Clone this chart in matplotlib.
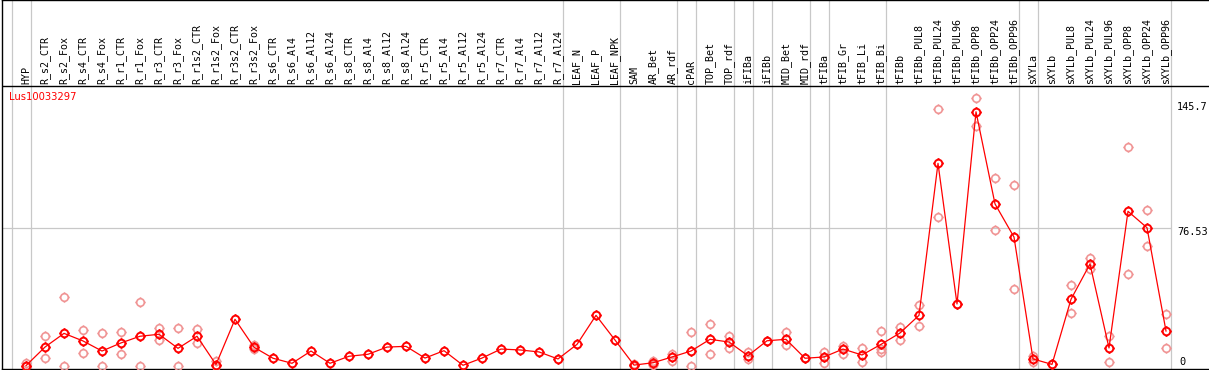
import matplotlib
matplotlib.use("Agg")
import matplotlib.pyplot as plt
from matplotlib.path import Path
import numpy as np

title = "Lus10033297"

categories = [
    "HYP", "R_s2_CTR", "R_s2_Fox", "R_s4_CTR", "R_s4_Fox", "R_r1_CTR", "R_r1_Fox",
    "R_r3_CTR", "R_r3_Fox", "R_r1s2_CTR", "R_r1s2_Fox", "R_r3s2_CTR", "R_r3s2_Fox",
    "R_s6_CTR", "R_s6_Al4", "R_s6_Al12", "R_s6_Al24", "R_s8_CTR", "R_s8_Al4",
    "R_s8_Al12", "R_s8_Al24", "R_r5_CTR", "R_r5_Al4", "R_r5_Al12", "R_r5_Al24",
    "R_r7_CTR", "R_r7_Al4", "R_r7_Al12", "R_r7_Al24", "LEAF_N", "LEAF_P", "LEAF_NPK",
    "SAM", "AR_Bet", "AR_rdf", "cPAR", "TOP_Bet", "TOP_rdf", "iFIBa", "iFIBb",
    "MID_Bet", "MID_rdf", "tFIBa", "tFIB_Gr", "tFIB_Li", "tFIB_Bi", "tFIBb",
    "tFIBb_PUL8", "tFIBb_PUL24", "tFIBb_PUL96", "tFIBb_OPP8", "tFIBb_OPP24",
    "tFIBb_OPP96", "sXYLa", "sXYLb", "sXYLb_PUL8", "sXYLb_PUL24", "sXYLb_PUL96",
    "sXYLb_OPP8", "sXYLb_OPP24", "sXYLb_OPP96",
]

means = [
    0.2, 10.5, 18.1, 13.9, 8.3, 12.8, 16.5, 17.6, 9.8, 16.5, 0.8, 25.9, 10.4,
    4.3, 1.5, 8.3, 1.5, 5.4, 6.5, 10.5, 10.9, 4.4, 8.5, 0.4, 4.4,
    9.4, 8.9, 7.8, 3.9, 12.0, 28.1, 14.4,
    0.5, 1.8, 5.0, 8.3, 14.8, 13.3, 5.7, 14.0,
    14.8, 4.3, 5.0, 9.4, 6.1, 12.0, 18.3,
    28.1, 112.4, 34.4, 141.0, 89.9, 71.5,
    3.9, 0.9, 37.0, 56.6, 10.0, 85.8, 76.7, 19.4,
]

replicates = [
    [1.8, 0.0], [16.5, 4.3], [38.1, 0.0], [19.8, 7.0], [18.3, 0.0], [18.7, 6.5],
    [35.3, 0.0], [20.9, 14.2], [21.3, 0.0], [20.3, 12.9], [2.5, 0.0], [], [11.6, 9.3],
    [], [], [], [], [], [], [], [], [], [], [], [],
    [], [], [], [], [], [], [],
    [1.3, 0.0], [2.8, 0.4], [6.8, 2.8], [18.9, 0.0], [23.3, 6.5], [16.6, 9.8],
    [7.9, 3.9], [14.0],
    [18.9, 11.5], [4.3], [7.9, 1.8], [11.3, 6.5], [10.0, 2.0], [19.2, 9.3, 7.9],
    [21.6, 14.6],
    [33.7, 22.0], [142.4, 82.6], [34.4], [148.5, 133.3], [104.1, 75.4], [100.2, 42.7],
    [5.5, 2.4], [0.9], [44.7, 29.2], [59.9, 53.8], [16.6, 2.4], [121.3, 50.9],
    [86.5, 66.4], [28.7, 9.8],
]

group_ends = [-1, 0, 28, 31, 34, 35, 37, 38, 39, 41, 42, 45, 52, 53, 60]
y_max_label = 145.7
y_mid_label = 76.53

# ---- geometry (pixels -> data) ----
W, H = 1209, 370
x0_px, dx_px = 26.0, 19.0
zero_px, ppu = 366.0, 1.803


def vy(py):
    return (zero_px - py) / ppu


def vx(px):
    return (px - x0_px) / dx_px


fig = plt.figure(figsize=(W / 100, H / 100), dpi=100)
ax = fig.add_axes([2 / W, 1 / H, (W - 2) / W, 369 / H])
ax.set_xlim(vx(2), vx(W))
ax.set_ylim(vy(369), vy(0))
ax.set_xticks([])
ax.set_yticks([])
ax.spines["right"].set_visible(False)
for s in ["left", "top", "bottom"]:
    ax.spines[s].set_color("black")
    ax.spines[s].set_linewidth(1.0)

# header separator line
ax.axhline(vy(85.7), color="black", lw=1.0, zorder=3)

# group separators
for g in group_ends:
    ax.axvline(g + 0.25, color="#c8c8c8", lw=0.9, zorder=1)

# horizontal reference line
ax.hlines(y_mid_label, vx(2), 60.25, color="#c8c8c8", lw=0.9, zorder=1)

# custom marker: circle with four small ticks
circ = Path.unit_circle()
ticks = Path(
    [(0, 1), (0, 1.35), (0, -1), (0, -1.35), (1, 0), (1.35, 0), (-1, 0), (-1.35, 0)],
    [Path.MOVETO, Path.LINETO] * 4,
)
marker_path = Path.make_compound_path(circ, ticks)

xs = np.arange(len(categories))

# replicates
rx, ry = [], []
for i, reps in enumerate(replicates):
    for r in reps:
        rx.append(i)
        ry.append(r)
ax.plot(rx, ry, linestyle="none", marker=marker_path, markersize=7.4,
        markerfacecolor="none", markeredgecolor="#f09494", markeredgewidth=1.2,
        zorder=4, clip_on=True)

# means
ax.plot(xs, means, color="red", lw=0.9, marker=marker_path, markersize=7.4,
        markerfacecolor="none", markeredgecolor="red", markeredgewidth=1.4,
        zorder=5)

# category labels
for i, name in enumerate(categories):
    ax.text(i, vy(83.5), name, rotation=90, ha="center", va="bottom",
            family="DejaVu Sans Mono", fontsize=7.2, color="black", zorder=6)

# title
ax.text(vx(9), vy(97.5), title, ha="left", va="center", color="red",
        family="DejaVu Sans", fontsize=7.2, zorder=6)

# right value labels
ax.text(vx(1177), vy(107.3), f"{y_max_label:g}", ha="left", va="center",
        family="DejaVu Sans Mono", fontsize=7.4, color="black")
ax.text(vx(1177), vy(232.3), f"{y_mid_label:g}", ha="left", va="center",
        family="DejaVu Sans Mono", fontsize=7.4, color="black")
ax.text(vx(1179), vy(361.7), "0", ha="left", va="center",
        family="DejaVu Sans Mono", fontsize=7.4, color="black")

fig.savefig("out.png", dpi=100)
